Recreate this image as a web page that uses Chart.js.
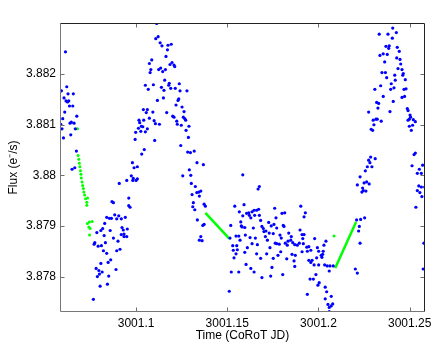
<!DOCTYPE html>
<html>
<head>
<meta charset="utf-8">
<script src="https://cdn.jsdelivr.net/npm/chart.js@4/dist/chart.umd.min.js"></script>
<style>
  html, body { margin: 0; padding: 0; background: #fff; }
  #lc { display: block; }
</style>
</head>
<body>
<canvas id="lc" width="436" height="345"></canvas>
<script>
// light curve samples: [time (CoRoT JD), flux (e-/s)]
var blueStart = [
  [3001.0613,3.88244],[3001.0620,3.88175],[3001.0591,3.88167],[3001.0627,3.88161],[3001.0656,3.88161],
  [3001.0605,3.88153],[3001.0616,3.88147],[3001.0624,3.88145],[3001.0631,3.88147],[3001.0635,3.88137],
  [3001.0653,3.88137],[3001.0609,3.88125],[3001.0675,3.88117],[3001.0598,3.88112],[3001.0645,3.88105],
  [3001.0638,3.88103],[3001.0660,3.88103],[3001.0587,3.88101],[3001.0594,3.88092],[3001.0667,3.88092],
  [3001.0642,3.88080],[3001.0602,3.88074],[3001.0673,3.88048],[3001.0664,3.88015],[3001.0649,3.88012]
];

var blueRise = [
  [3001.0766,3.87755],[3001.0770,3.87864],[3001.0774,3.87867],[3001.0781,3.87816],[3001.0785,3.87887],
  [3001.0788,3.87800],[3001.0792,3.87860],[3001.0796,3.87812],[3001.0799,3.87805],[3001.0803,3.87781],
  [3001.0807,3.87891],[3001.0807,3.87826],[3001.0810,3.87861],[3001.0814,3.87809],[3001.0817,3.87895],
  [3001.0821,3.87851],[3001.0825,3.87881],[3001.0828,3.87905],[3001.0832,3.87867],[3001.0839,3.87917],
  [3001.0839,3.87846],[3001.0843,3.87785],[3001.0847,3.87828],[3001.0850,3.87801],[3001.0854,3.87915],
  [3001.0858,3.87891],[3001.0861,3.87833],[3001.0865,3.87915],[3001.0868,3.87948],[3001.0876,3.87946],
  [3001.0876,3.87876],[3001.0883,3.87922],[3001.0890,3.87814],[3001.0894,3.87914],[3001.0894,3.87851],
  [3001.0901,3.87870],[3001.0905,3.87920],[3001.0908,3.87984],[3001.0912,3.87854],[3001.0919,3.87914],
  [3001.0919,3.87883],[3001.0923,3.87897],[3001.0930,3.87892],[3001.0934,3.87879],[3001.0934,3.87884],
  [3001.0941,3.87917],[3001.0949,3.87990],[3001.0949,3.87879],[3001.0952,3.87894],[3001.0960,3.87955],
  [3001.0960,3.87940],[3001.0967,3.87937],[3001.0974,3.87999],[3001.0980,3.88025],[3001.0982,3.87990],
  [3001.0985,3.87994],[3001.0989,3.88015],[3001.1000,3.87990],[3001.1007,3.88017],[3001.1007,3.87993]
];

var bluePeak1 = [
  [3001.0995,3.88071],[3001.0998,3.88085],[3001.1013,3.88093],[3001.1016,3.88109],[3001.1020,3.88104],
  [3001.1026,3.88087],[3001.1029,3.88097],[3001.1031,3.88042],[3001.1037,3.88096],[3001.1040,3.88130],
  [3001.1042,3.88109],[3001.1045,3.88051],[3001.1051,3.88178],[3001.1051,3.88086],[3001.1056,3.88124],
  [3001.1062,3.88130],[3001.1062,3.88092],[3001.1067,3.88170],[3001.1073,3.88221],[3001.1073,3.88113],
  [3001.1077,3.88203],[3001.1081,3.88209],[3001.1086,3.88228],[3001.1092,3.88125],[3001.1095,3.88179],
  [3001.1099,3.88108],[3001.1102,3.88069],[3001.1106,3.88102],[3001.1108,3.88270],[3001.1113,3.88300],
  [3001.1117,3.88148],[3001.1121,3.88274],[3001.1124,3.88209],[3001.1128,3.88101],[3001.1132,3.88262],
  [3001.1135,3.88212],[3001.1139,3.88174],[3001.1142,3.88256],[3001.1146,3.88205],[3001.1150,3.88153],
  [3001.1153,3.88168],[3001.1157,3.88188],[3001.1161,3.88209],[3001.1164,3.88235],[3001.1168,3.88124],
  [3001.1172,3.88248],[3001.1175,3.88257],[3001.1179,3.88178],[3001.1182,3.88182],[3001.1186,3.88219],
  [3001.1190,3.88172],[3001.1193,3.88259],[3001.1197,3.88223],[3001.1201,3.88117],[3001.1208,3.88115],
  [3001.1208,3.88218],[3001.1212,3.88215],[3001.1215,3.88172],[3001.1219,3.88139],[3001.1223,3.88107],
  [3001.1226,3.88101],[3001.1230,3.88148],[3001.1234,3.88151],[3001.1237,3.88181],[3001.1241,3.88167],
  [3001.1245,3.88059],[3001.1248,3.88099],[3001.1252,3.88135],[3001.1259,3.88115],[3001.1263,3.88126],
  [3001.1267,3.88112],[3001.1272,3.88109],[3001.1274,3.88089],[3001.1279,3.88167],[3001.1283,3.88046],
  [3001.1287,3.88075],[3001.1290,3.88097],[3001.1298,3.88045],[3001.1319,3.88048],[3001.1334,3.88025],
  [3001.1369,3.88021]
];

var blueFall = [
  [3001.1256,3.87999],[3001.1292,3.88011],[3001.1300,3.88000],[3001.1303,3.87984],[3001.1307,3.87962],
  [3001.1311,3.87938],[3001.1314,3.87946],[3001.1322,3.87932],[3001.1325,3.87978],[3001.1333,3.87966],
  [3001.1336,3.87912],[3001.1344,3.87967],[3001.1347,3.87959],[3001.1347,3.87872],[3001.1355,3.87969],
  [3001.1355,3.87879],[3001.1362,3.87871],[3001.1366,3.87901],[3001.1373,3.87903],[3001.1373,3.87943],
  [3001.1380,3.87939]
];

var blueTrough = [
  [3001.1511,3.87771],[3001.1515,3.87876],[3001.1519,3.87901],[3001.1522,3.87809],[3001.1530,3.87861],
  [3001.1533,3.87852],[3001.1537,3.87837],[3001.1541,3.87939],[3001.1548,3.87880],[3001.1548,3.87845],
  [3001.1552,3.87861],[3001.1555,3.87853],[3001.1563,3.87880],[3001.1563,3.87809],[3001.1566,3.87928],
  [3001.1570,3.87872],[3001.1574,3.87908],[3001.1577,3.87900],[3001.1581,3.87898],[3001.1585,3.88001],
  [3001.1585,3.87920],[3001.1592,3.87942],[3001.1596,3.87897],[3001.1596,3.87848],[3001.1599,3.87882],
  [3001.1603,3.87824],[3001.1606,3.87925],[3001.1610,3.87857],[3001.1618,3.87926],[3001.1621,3.87921],
  [3001.1625,3.87877],[3001.1629,3.87916],[3001.1629,3.87816],[3001.1636,3.87928],[3001.1636,3.87865],
  [3001.1643,3.87896],[3001.1647,3.87931],[3001.1647,3.87809],[3001.1650,3.87921],[3001.1654,3.87876],
  [3001.1661,3.87931],[3001.1661,3.87845],[3001.1665,3.87863],[3001.1669,3.87973],[3001.1672,3.87933],
  [3001.1676,3.87978],[3001.1676,3.87921],[3001.1683,3.87911],[3001.1683,3.87836],[3001.1690,3.87899],
  [3001.1690,3.87798],[3001.1698,3.87895],[3001.1701,3.87889],[3001.1709,3.87879],[3001.1712,3.87890],
  [3001.1716,3.87845],[3001.1720,3.87872],[3001.1727,3.87907],[3001.1730,3.87886],[3001.1734,3.87857],
  [3001.1738,3.87801],[3001.1741,3.87900],[3001.1745,3.87818],[3001.1752,3.87885],[3001.1752,3.87836],
  [3001.1756,3.87903],[3001.1760,3.87935],[3001.1763,3.87866],[3001.1767,3.87916],[3001.1771,3.87896],
  [3001.1771,3.87865],[3001.1778,3.87842],[3001.1785,3.87864],[3001.1789,3.87882],[3001.1793,3.87849],
  [3001.1796,3.87876],[3001.1800,3.87925],[3001.1804,3.87804],[3001.1807,3.87901],[3001.1811,3.87899],
  [3001.1815,3.87926],[3001.1818,3.87866],[3001.1826,3.87835],[3001.1829,3.87862],[3001.1833,3.87870],
  [3001.1837,3.87886],[3001.1848,3.87872],[3001.1851,3.87879],[3001.1855,3.87844],[3001.1859,3.87867],
  [3001.1866,3.87831],[3001.1870,3.87863],[3001.1870,3.87820],[3001.1873,3.87842],[3001.1884,3.87862],
  [3001.1895,3.87866],[3001.1899,3.87892],[3001.1903,3.87939],[3001.1910,3.87883],[3001.1910,3.87849],
  [3001.1914,3.87875],[3001.1917,3.87865],[3001.1921,3.87918],[3001.1921,3.87883],[3001.1928,3.87926],
  [3001.1936,3.87858],[3001.1939,3.87850],[3001.1939,3.87765],[3001.1947,3.87859],[3001.1947,3.87832],
  [3001.1954,3.87795],[3001.1958,3.87852],[3001.1958,3.87828],[3001.1965,3.87832],[3001.1972,3.87795],
  [3001.1976,3.87823],[3001.1979,3.87875],[3001.1986,3.87804],[3001.1990,3.87837],[3001.1994,3.87857],
  [3001.1997,3.87783],[3001.2001,3.87850],[3001.2001,3.87823],[3001.2004,3.87788],[3001.2015,3.87842],
  [3001.2019,3.87838],[3001.2023,3.87844],[3001.2026,3.87850],[3001.2030,3.87862],[3001.2034,3.87823],
  [3001.2037,3.87779],[3001.2037,3.87756],[3001.2041,3.87870],[3001.2045,3.87770],[3001.2048,3.87821],
  [3001.2052,3.87745],[3001.2059,3.87811],[3001.2059,3.87739],[3001.2059,3.87731],[3001.2063,3.87821],
  [3001.2070,3.87761],[3001.2070,3.87742],[3001.2078,3.87746],[3001.2081,3.87821]
];

var bluePeak2 = [
  [3001.2202,3.87815],[3001.2213,3.87807],[3001.2209,3.87912],[3001.2220,3.87890],[3001.2224,3.87899],
  [3001.2228,3.87866],[3001.2231,3.87913],[3001.2253,3.87916],[3001.2213,3.87981],[3001.2228,3.87997],
  [3001.2238,3.87967],[3001.2242,3.87975],[3001.2246,3.87970],[3001.2250,3.87985],[3001.2260,3.87969],
  [3001.2264,3.87987],[3001.2278,3.87983],[3001.2257,3.88009],[3001.2268,3.88017],[3001.2293,3.88017],
  [3001.2275,3.88030],[3001.2282,3.88025],[3001.2286,3.88036],[3001.2311,3.88033],[3001.2289,3.88091],
  [3001.2297,3.88089],[3001.2304,3.88100],[3001.2300,3.88109],[3001.2315,3.88111],[3001.2322,3.88111],
  [3001.2344,3.88107],[3001.2275,3.88125],[3001.2326,3.88133],[3001.2319,3.88144],[3001.2330,3.88142],
  [3001.2355,3.88156],[3001.2309,3.88170],[3001.2341,3.88177],[3001.2392,3.88126],[3001.2410,3.88146],
  [3001.2396,3.88170],[3001.2414,3.88173],[3001.2399,3.88181],[3001.2421,3.88188],[3001.2374,3.88193],
  [3001.2418,3.88198],[3001.2348,3.88203],[3001.2367,3.88203],[3001.2363,3.88224],[3001.2337,3.88237],
  [3001.2355,3.88240],[3001.2377,3.88239],[3001.2370,3.88255],[3001.2388,3.88256],[3001.2385,3.88251],
  [3001.2333,3.88279],[3001.2381,3.88279],[3001.2405,3.88271],[3001.2407,3.88291],[3001.2427,3.88282],
  [3001.2432,3.88253],[3001.2443,3.88245],[3001.2429,3.88232],[3001.2447,3.88229],[3001.2451,3.88220],
  [3001.2436,3.88211],[3001.2458,3.88209],[3001.2465,3.88201],[3001.2462,3.88198],[3001.2476,3.88189],
  [3001.2469,3.88170],[3001.2480,3.88171],[3001.2472,3.88156],[3001.2458,3.88154],[3001.2487,3.88132],
  [3001.2491,3.88128],[3001.2502,3.88119],[3001.2505,3.88115],[3001.2498,3.88111],[3001.2491,3.88109],
  [3001.2520,3.88110],[3001.2531,3.88106],[3001.2498,3.88097],[3001.2516,3.88099],[3001.2509,3.88089],
  [3001.2524,3.88041],[3001.2531,3.88044],[3001.2513,3.88019],[3001.2571,3.88020],[3001.2553,3.88012],
  [3001.2542,3.88004],[3001.2564,3.88004],[3001.2550,3.87979],[3001.2542,3.87970],[3001.2564,3.87977],
  [3001.2582,3.87977],[3001.2556,3.87966],[3001.2567,3.87958],[3001.2534,3.87937],[3001.2578,3.87866],
  [3001.2574,3.87815]
];

// green (corrected / flagged) parts
var greenDots = [
  [3001.0679,3.88092],[3001.0682,3.88039],[3001.0686,3.88032],[3001.0689,3.88024],[3001.0692,3.88017],
  [3001.0695,3.88009],[3001.0698,3.88002],[3001.0700,3.87995],[3001.0704,3.87987],[3001.0707,3.87980],
  [3001.0711,3.87974],[3001.0714,3.87967],[3001.0718,3.87961],[3001.0723,3.87954],[3001.0734,3.87955],
  [3001.0730,3.87947],[3001.0730,3.87941],[3001.0733,3.87905],[3001.0744,3.87908],[3001.0759,3.87909],
  [3001.0741,3.87898],[3001.0748,3.87895],[3001.0745,3.87882],[3001.2085,3.87880]
];
var greenSeg1 = [[3001.1380,3.87926],[3001.1511,3.87875]];
var greenSeg2 = [[3001.2092,3.87817],[3001.2206,3.87908]];

var xTicks = [3001.1, 3001.15, 3001.2, 3001.25];
var yTicks = [3.878, 3.879, 3.88, 3.881, 3.882];

function toXY(arr) {
  return arr.map(function (p) { return { x: p[0], y: p[1] }; });
}

var blueAll = [].concat(blueStart, blueRise, bluePeak1, blueFall, blueTrough, bluePeak2);

// MATLAB-like box with inward tick marks
var boxPlugin = {
  id: 'box',
  afterDraw: function (chart) {
    var c = chart.ctx, a = chart.chartArea;
    var sx = chart.scales.x, sy = chart.scales.y;
    var L = Math.round(a.left) + 0.5, R = Math.round(a.right) - 0.5;
    var T = Math.round(a.top) + 0.5, B = Math.round(a.bottom) - 0.5;
    c.save();
    c.lineWidth = 1;
    c.strokeStyle = '#6e6e6e';
    xTicks.forEach(function (v) {
      var px = Math.round(sx.getPixelForValue(v)) + 0.5;
      c.beginPath(); c.moveTo(px, B); c.lineTo(px, B - 4); c.stroke();
      c.beginPath(); c.moveTo(px, T); c.lineTo(px, T + 4); c.stroke();
    });
    yTicks.forEach(function (v) {
      var py = Math.round(sy.getPixelForValue(v)) + 0.5;
      c.beginPath(); c.moveTo(L, py); c.lineTo(L + 4, py); c.stroke();
      c.beginPath(); c.moveTo(R, py); c.lineTo(R - 4, py); c.stroke();
    });
    c.strokeStyle = '#777';
    c.beginPath(); c.moveTo(L, T); c.lineTo(L, B); c.lineTo(R, B); c.stroke();
    c.strokeStyle = '#222';
    c.beginPath(); c.moveTo(L, T); c.lineTo(R, T); c.lineTo(R, B); c.stroke();
    c.restore();
  }
};

var ctx_lc = document.getElementById('lc');
var lcChart = new Chart(ctx_lc, {
  type: 'scatter',
  data: {
    datasets: [
      {
        data: toXY(blueAll),
        backgroundColor: '#0000ff',
        borderWidth: 0,
        pointRadius: 1.6
      },
      {
        data: toXY(greenDots),
        backgroundColor: '#00ff00',
        borderWidth: 0,
        pointRadius: 1.5
      },
      {
        data: toXY(greenSeg1),
        showLine: true,
        borderColor: '#00ff00',
        borderWidth: 2.5,
        pointRadius: 0
      },
      {
        data: toXY(greenSeg2),
        showLine: true,
        borderColor: '#00ff00',
        borderWidth: 2.5,
        pointRadius: 0
      }
    ]
  },
  options: {
    responsive: false,
    animation: false,
    devicePixelRatio: 1,
    layout: { padding: { top: 23, right: 11, left: 0, bottom: 0 } },
    plugins: {
      legend: { display: false },
      tooltip: { enabled: false }
    },
    scales: {
      x: {
        type: 'linear',
        min: 3001.0583,
        max: 3001.2584,
        afterBuildTicks: function (s) { s.ticks = xTicks.map(function (v) { return { value: v }; }); },
        afterFit: function (s) { s.height = 33; },
        grid: { display: false, drawTicks: false },
        border: { display: false },
        ticks: {
          color: '#000',
          padding: 4,
          maxRotation: 0,
          font: { family: 'Liberation Sans', size: 12 },
          callback: function (v) { return String(v); }
        },
        title: {
          display: true,
          text: 'Time (CoRoT JD)',
          color: '#000',
          font: { family: 'Liberation Sans', size: 12 },
          padding: { top: 0, bottom: 2 }
        }
      },
      y: {
        type: 'linear',
        min: 3.8773,
        max: 3.88301,
        afterBuildTicks: function (s) { s.ticks = yTicks.map(function (v) { return { value: v }; }); },
        afterFit: function (s) { s.width = 60; },
        grid: { display: false, drawTicks: false },
        border: { display: false },
        ticks: {
          color: '#000',
          padding: 4,
          font: { family: 'Liberation Sans', size: 12 },
          callback: function (v) { return String(v); }
        },
        title: {
          display: true,
          text: 'Flux (e\u207B/s)',
          color: '#000',
          font: { family: 'Liberation Sans', size: 12 },
          padding: { top: 6, bottom: 0 }
        }
      }
    }
  },
  plugins: [boxPlugin]
});
</script>
</body>
</html>
